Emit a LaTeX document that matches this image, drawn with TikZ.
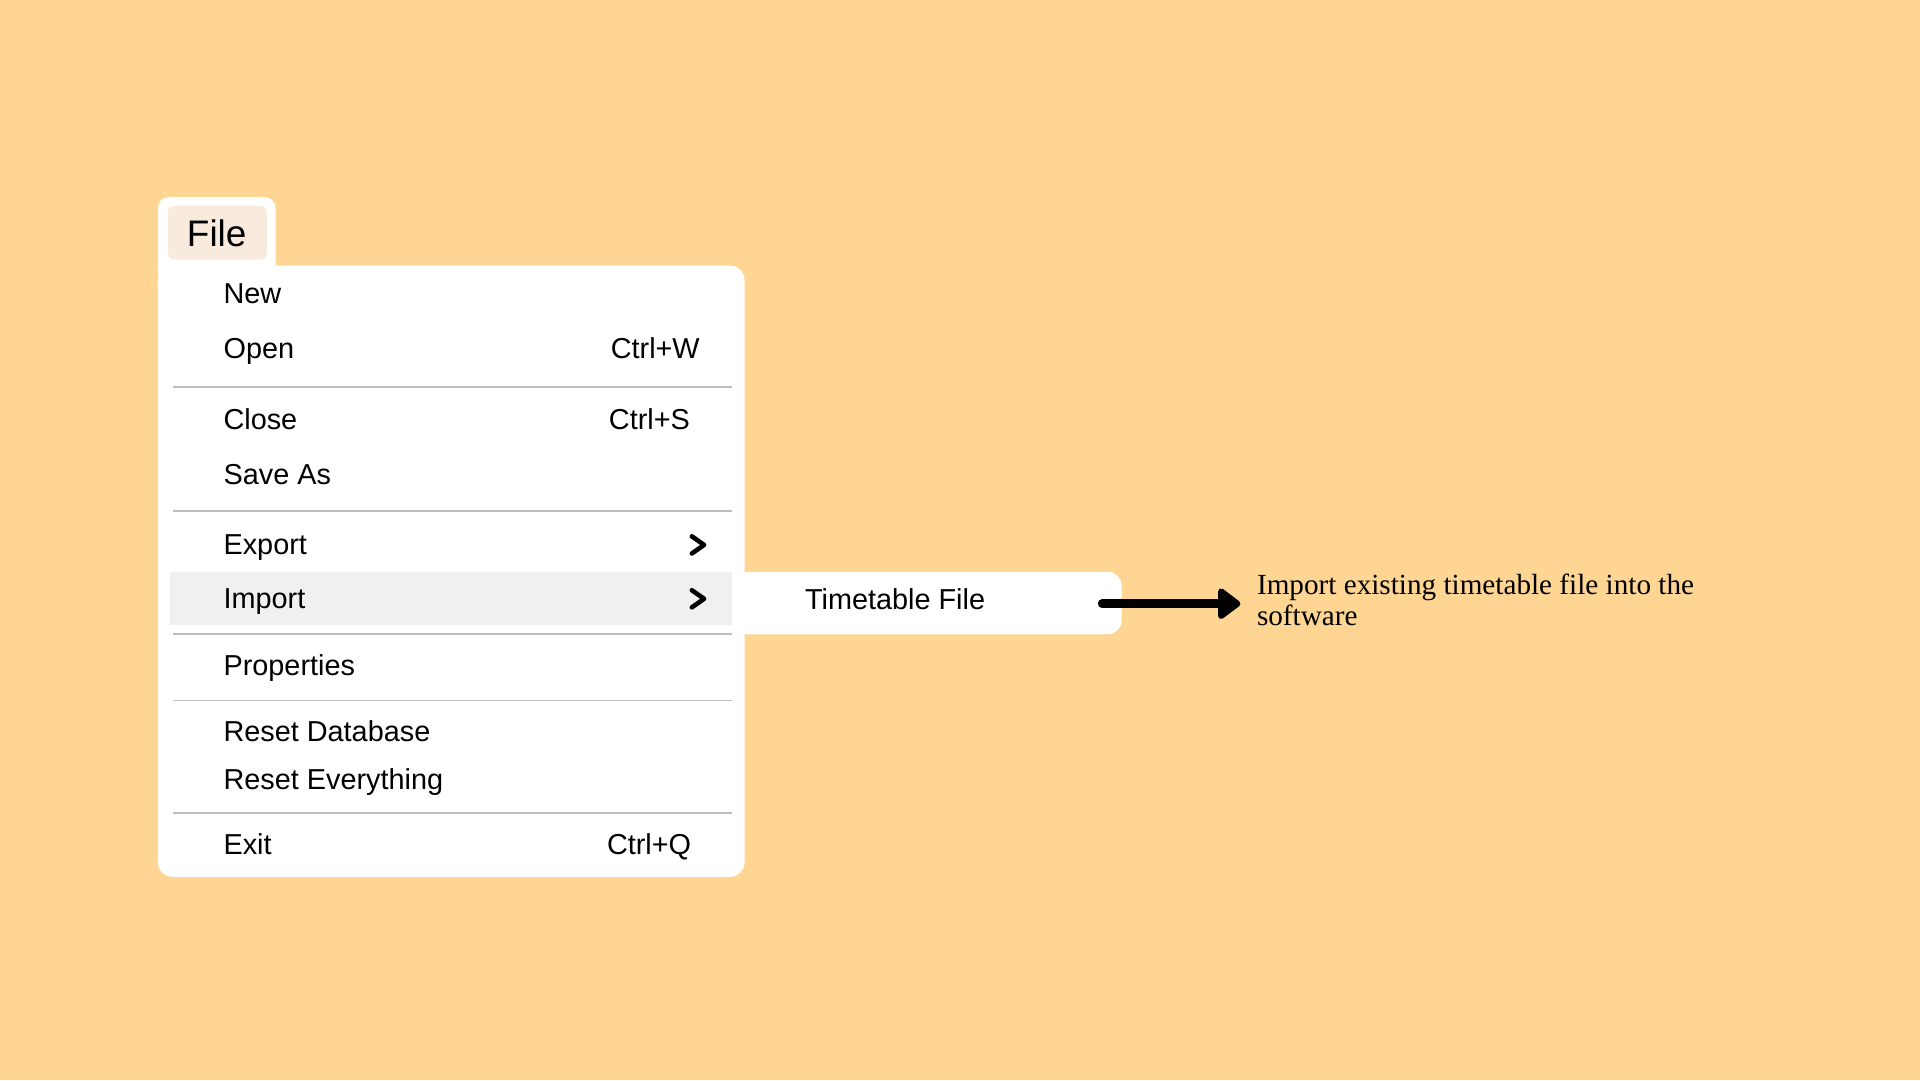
\documentclass[tikz,border=0pt]{standalone}
\usepackage{fontspec}
\setmainfont{Liberation Serif}
\newfontfamily\uifont{Liberation Sans}
\usetikzlibrary{arrows.meta}
\definecolor{bgpeach}{HTML}{FED593}
\definecolor{tabbeige}{HTML}{F8EADC}
\definecolor{hlgray}{HTML}{F0F0F0}
\definecolor{sepgray}{HTML}{BDBDBD}
\tikzset{
  item/.style={anchor=west, inner sep=0pt, text height=1.5ex, text depth=0.3ex, font=\uifont\fontsize{8.2}{9}\selectfont},
  key/.style={item, anchor=east},
  chev/.style={line width=1.3pt, line cap=round, line join=round},
  sep/.style={draw=sepgray, line width=0.5pt},
}
\begin{document}
\begin{tikzpicture}[x=0.012245cm, y=-0.012245cm]
		\fill[bgpeach] (0,0) rectangle (1568,882);
		\useasboundingbox (0,0) rectangle (1568,882);
		% file tab and menu body
		\fill[white, rounded corners=3pt] (129,161) rectangle (225,230);
		\fill[tabbeige, rounded corners=2pt] (137,168) rectangle (218,212);
		\node[item, anchor=center, font=\uifont\fontsize{10.5}{12}\selectfont] (file) at (177,193) {File};
		\fill[white, rounded corners=4pt] (129,217) rectangle (608,716);
		\fill[hlgray] (139,467) rectangle (598,510);
		% entries
		\node[item] (new) at (182,240) {New};
		\node[item] (open) at (182,285) {Open};
		\node[key] (kopen) at (572,285) {Ctrl+W};
		\node[item] (close) at (182,343) {Close};
		\node[key] (kclose) at (564,343) {Ctrl+S};
		\node[item] (saveas) at (182,388) {Save As};
		\node[item] (export) at (182,445) {Export};
		\node[item] (import) at (182,489) {Import};
		\node[item] (props) at (182,544) {Properties};
		\node[item] (resetdb) at (182,598) {Reset Database};
		\node[item] (resetall) at (182,637) {Reset Everything};
		\node[item] (exit) at (182,690) {Exit};
		\node[key] (kexit) at (565,690) {Ctrl+Q};
		% chevrons
		\foreach \y in {445,489}
			\draw[chev] (565,\y-7) -- (575,\y) -- (565,\y+7);
		% separators
		\foreach \y in {316,417,518,572,664}
			\draw[sep] (141,\y) -- (598,\y);
		% submenu
		\fill[white, rounded corners=4pt] (598,467) rectangle (916,518);
		\node[item, anchor=center] (timetable) at (731,490) {Timetable File};
		\coordinate (tail) at (900,493);
		\node[anchor=west, align=left, inner sep=0pt, font=\fontsize{8.3}{7.2}\selectfont] (note) at (1026,490) {Import existing timetable file into the\\software};
		\draw[line width=2.4pt, line cap=round, -{Triangle[round, length=7pt, width=10pt]}] (tail) -- (1013,493);
\end{tikzpicture}
\end{document}
